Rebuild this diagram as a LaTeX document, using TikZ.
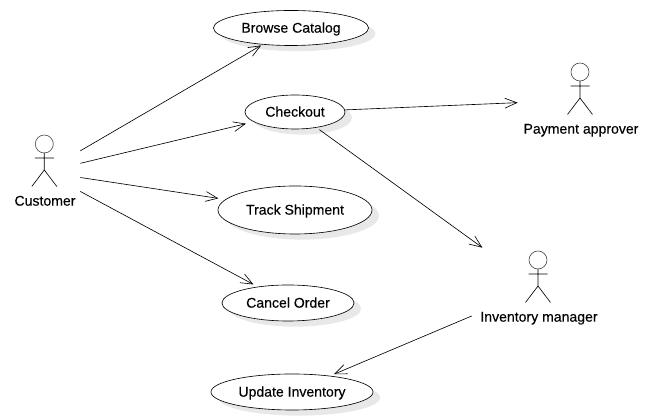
\documentclass[tikz,border=0pt]{standalone}
\usepackage{fontspec}
\setmainfont[FakeBold=0.25]{Liberation Sans}
\usetikzlibrary{arrows.meta,shapes.geometric,shadows}
\begin{document}
\begin{tikzpicture}[x=0.025cm, y=-0.025cm, line width=0.45pt,
    usecase/.style={draw, ellipse, fill=white, inner sep=0pt, text height=7pt, text depth=0.4pt,
      font=\fontsize{10}{12}\selectfont,
      copy shadow={draw=none, fill=black!9, shadow xshift=5pt, shadow yshift=-4pt}},
    actorbox/.style={rectangle, inner sep=0pt},
    actorname/.style={inner sep=0pt, text height=7pt, text depth=0.4pt, font=\fontsize{10}{12}\selectfont},
    stick/.pic={
      \draw[black!70] (0,0) circle[radius=9];
      \draw (0,9) -- (0,26) (-9.5,14) -- (9.5,14) (-12.5,42.5) -- (0,26) -- (12.5,42.5);
    }]
    \useasboundingbox (0,0) rectangle (654,418);

    \node [usecase, minimum width=3.875cm, minimum height=0.875cm] (browse) at (291,28) {Browse Catalog};
    \node [usecase, minimum width=2.5cm, minimum height=0.85cm] (checkout) at (295,112) {Checkout};
    \node [usecase, minimum width=3.85cm, minimum height=1.2cm] (track) at (295,210) {Track Shipment};
    \node [usecase, minimum width=3.3cm, minimum height=0.9cm] (cancel) at (288,303) {Cancel Order};
    \node [usecase, minimum width=4.05cm, minimum height=0.9cm] (update) at (292,392) {Update Inventory};

    \node [actorbox, minimum width=1.8cm, minimum height=1.9cm] (customer) at (44,172) {};
    \node [actorbox, minimum width=3.15cm, minimum height=1.9cm] (approver) at (581,100) {};
    \node [actorbox, minimum width=3.3cm, minimum height=2cm] (manager) at (538,288) {};

    \pic at (44.3,144) {stick};
    \pic at (580,72) {stick};
    \pic at (538,260) {stick};

    \node [actorname] (customername) at (45,201) {Customer};
    \node [actorname] (approvername) at (581,129) {Payment approver};
    \node [actorname] (managername) at (539,317) {Inventory manager};

    \begin{scope}[-{Straight Barb[length=8.5pt, width=7pt]}]
      \draw [shorten >=24.6pt] (customer) -- (browse.center);
      \draw [shorten >=35.8pt] (customer) -- (checkout.center);
      \draw [shorten >=55.1pt] (customer) -- (track.center);
      \draw [shorten >=27.9pt] (customer) -- (cancel.center);
      \draw (checkout) -- (approver);
      \draw [shorten <=21.4pt] (checkout.center) -- (manager);
      \draw [shorten >=32.4pt] (manager) -- (update.center);
    \end{scope}
\end{tikzpicture}
\end{document}
